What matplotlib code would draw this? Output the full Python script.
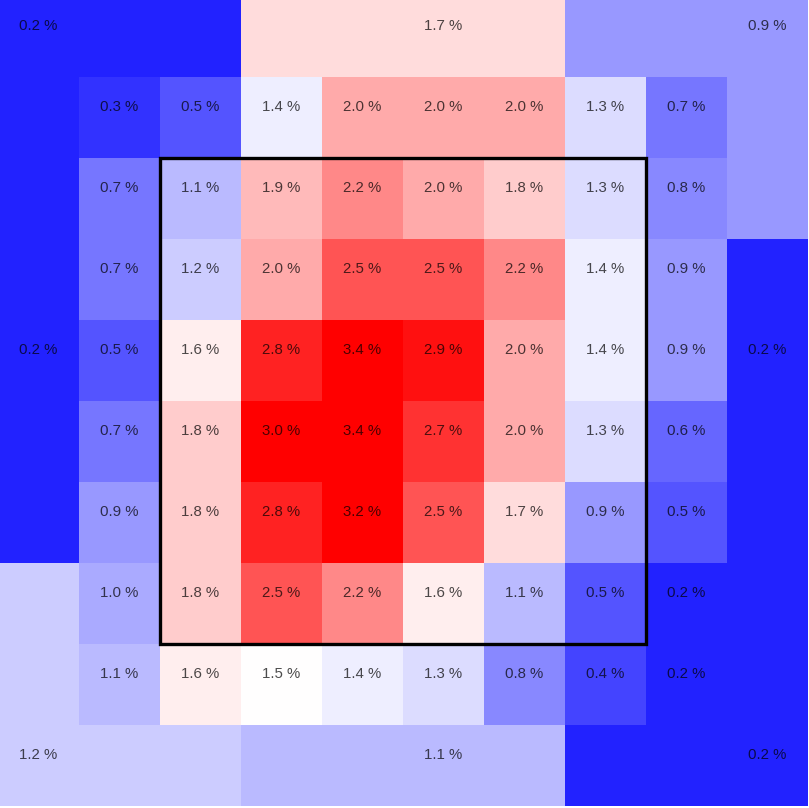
import matplotlib
matplotlib.use("Agg")
import matplotlib.pyplot as plt
import numpy as np
from matplotlib.patches import Rectangle

# inner 8x8 zone values (%), top row first, left column first
inner_rows = [
    [0.3, 0.5, 1.4, 2.0, 2.0, 2.0, 1.3, 0.7],
    [0.7, 1.1, 1.9, 2.2, 2.0, 1.8, 1.3, 0.8],
    [0.7, 1.2, 2.0, 2.5, 2.5, 2.2, 1.4, 0.9],
    [0.5, 1.6, 2.8, 3.4, 2.9, 2.0, 1.4, 0.9],
    [0.7, 1.8, 3.0, 3.4, 2.7, 2.0, 1.3, 0.6],
    [0.9, 1.8, 2.8, 3.2, 2.5, 1.7, 0.9, 0.5],
    [1.0, 1.8, 2.5, 2.2, 1.6, 1.1, 0.5, 0.2],
    [1.1, 1.6, 1.5, 1.4, 1.3, 0.8, 0.4, 0.2],
]

# outer ring regions
top_left = 0.2
top = 1.7
top_right = 0.9
right = 0.2
bottom_right = 0.2
bottom = 1.1
bottom_left = 1.2
left = 0.2

grid = np.zeros((10, 10))
grid[1:9, 1:9] = np.array(inner_rows)
grid[0, 0:3] = top_left
grid[0:3, 0] = top_left
grid[0, 3:7] = top
grid[0, 7:10] = top_right
grid[0:3, 9] = top_right
grid[3:7, 9] = right
grid[7:10, 9] = bottom_right
grid[9, 7:10] = bottom_right
grid[9, 3:7] = bottom
grid[9, 0:3] = bottom_left
grid[7:10, 0] = bottom_left
grid[3:7, 0] = left

fig = plt.figure(figsize=(8.09, 8.08), dpi=100)
ax = fig.add_axes([0, 0, 1, 1])
ax.pcolormesh(np.arange(11), np.arange(11), grid, cmap="bwr", vmin=0.0, vmax=3.0)
ax.set_xlim(0.025, 10.012)
ax.set_ylim(10.025, 0.049)
ax.axis("off")

txt_kw = dict(ha="center", va="center", fontsize=10.8, family="Liberation Sans",
              color="black", alpha=0.7)
dy = 0.37

for r in range(8):
    for c in range(8):
        ax.text(c + 1.5, r + 1 + dy, f"{inner_rows[r][c]:.1f} %", **txt_kw)

outer_labels = [
    (0, 0, top_left), (5, 0, top), (9, 0, top_right), (9, 4, right),
    (9, 9, bottom_right), (5, 9, bottom), (0, 9, bottom_left), (0, 4, left),
]
for c, r, v in outer_labels:
    ax.text(c + 0.5, r + dy, f"{v:.1f} %", **txt_kw)

# strike zone outline
ax.add_patch(Rectangle((2, 2), 6, 6, fill=False, edgecolor="black", linewidth=2.4))

fig.savefig("out.png", dpi=100)
